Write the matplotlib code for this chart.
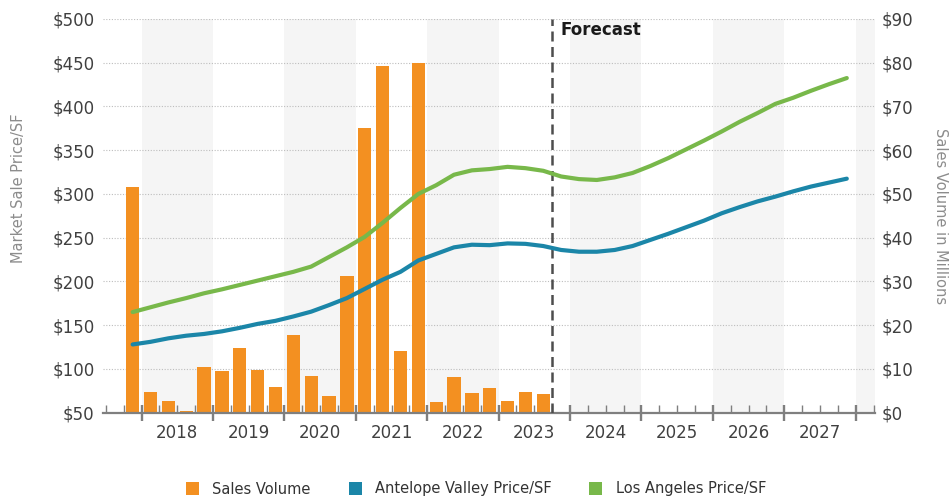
import matplotlib
matplotlib.use('Agg')
import matplotlib.pyplot as plt
from matplotlib.patches import Patch

plt.rcParams['font.family'] = ['DejaVu Sans']

# ---------------- data ----------------
years = [2018, 2019, 2020, 2021, 2022, 2023, 2024, 2025, 2026, 2027]

line_quarters = [f"{y}Q{q}" for y in range(2017, 2028) for q in range(1, 5)][3:]   # 2017Q4 .. 2027Q4
bar_quarters = line_quarters[:24]                                                   # 2017Q4 .. 2023Q3

sales_volume = [51.7, 4.7, 2.7, 0.4, 10.5, 9.5, 14.8, 9.7, 5.9, 17.8, 8.4, 3.8,
                31.2, 65.1, 79.3, 14.2, 80.0, 2.5, 8.1, 4.4, 5.6, 2.7, 4.8, 4.3]

av_price = [128, 131, 135, 138, 140, 143, 147, 151.5, 155, 160, 165.5, 173, 181,
            191.5, 202, 211, 224, 231.5, 239, 242, 241.5, 243.5, 243, 240.5, 236,
            234, 234, 236, 240.5, 247.5, 254.5, 262, 269.5, 278, 285, 291.5, 297,
            303, 308.5, 313, 317.5]

la_price = [165, 170.5, 176, 181, 186.5, 191, 196, 201, 206, 211, 217, 228, 239,
            251, 267, 284, 300, 310, 322, 327, 328.5, 331, 329.5, 326.5, 320,
            317, 316, 319, 324, 332, 341, 351, 361, 371.5, 382.5, 392.5, 403,
            410, 418, 425.5, 432.5]

forecast_start = 2023.75

series_labels = ['Sales Volume', 'Antelope Valley Price/SF', 'Los Angeles Price/SF']
colors = ['#F39021', '#1B86A8', '#78B84A']


def qpos(label):
    y = int(label[:4])
    q = int(label[-1])
    return y + (q - 0.5) / 4.0


xb = [qpos(q) for q in bar_quarters]
xl = [qpos(q) for q in line_quarters]

# ---------------- figure ----------------
W, H = 950, 497
fig = plt.figure(figsize=(W / 100, H / 100), dpi=100)
L, R, T, B = 103, 875, 19, 412.7
ax = fig.add_axes([L / W, 1 - B / H, (R - L) / W, (B - T) / H])
ax2 = ax.twinx()

ax.set_xlim(2017.46, 2028.27)
ax.set_ylim(0, 90)
ax2.set_ylim(50, 500)

# alternating year bands
for y in range(2018, 2030, 2):
    ax.axvspan(y, y + 1, color='#f5f5f5', zorder=0, lw=0)

# grid
ax.set_yticks(range(0, 91, 10))
ax.set_yticklabels([f"${v}" for v in range(0, 91, 10)])
ax.set_axisbelow(True)
ax.grid(axis='y', linestyle=(0, (1, 1.5)), color='#bdbdbd', lw=0.8)
ax.grid(axis='x', visible=False)

# bars (right axis)
ax.bar(xb, sales_volume, width=0.186, color=colors[0], zorder=2, lw=0)

# lines (left axis)
ax2.plot(xl, av_price, color=colors[1], lw=3, solid_capstyle='round', zorder=4)
ax2.plot(xl, la_price, color=colors[2], lw=3, solid_capstyle='round', zorder=4)

# forecast divider
ax2.axvline(forecast_start, color='#4d4d4d', lw=1.8, ls=(0, (4, 2.2)), zorder=3)
ax2.text(forecast_start + 0.117, 0.972, 'Forecast', transform=ax2.get_xaxis_transform(),
         ha='left', va='center', fontsize=12, fontweight='bold', color='#1a1a1a')

# axes styling
ax.yaxis.tick_right()
ax.tick_params(axis='y', length=0, pad=5, labelsize=12, labelcolor='#404040')
ax2.yaxis.tick_left()
ax2.set_yticks(range(50, 501, 50))
ax2.set_yticklabels([f"${v}" for v in range(50, 501, 50)])
ax2.tick_params(axis='y', length=0, pad=6, labelsize=12, labelcolor='#404040')

for s in ['top', 'left', 'right']:
    ax.spines[s].set_visible(False)
for s in ['top', 'left', 'right', 'bottom']:
    ax2.spines[s].set_visible(False)
ax.spines['bottom'].set_color('#7f7f7f')
ax.spines['bottom'].set_linewidth(1.6)

major = list(range(2018, 2029))
minor = [2017.5 + 0.25 * i for i in range(44) if (2017.5 + 0.25 * i) % 1 != 0]
ax.set_xticks(major)
ax.set_xticks(minor, minor=True)
ax.tick_params(axis='x', which='major', direction='inout', length=12, width=1.7,
               color='#7f7f7f', labelbottom=False)
ax.tick_params(axis='x', which='minor', direction='in', length=6, width=1,
               color='#7f7f7f', labelbottom=False)

for y in years:
    ax.text(y + 0.5, -20.5 / (B - T), str(y), transform=ax.get_xaxis_transform(),
            ha='center', va='center', fontsize=12, color='#404040')

# axis titles
fig.text(18.5 / W, 1 - 188 / H, 'Market Sale Price/SF', rotation=90, ha='center',
         va='center', fontsize=10.5, color='#8c8c8c')
fig.text(940 / W, 1 - 216 / H, 'Sales Volume in Millions', rotation=270, ha='center',
         va='center', fontsize=10.5, color='#8c8c8c')

# legend
handles = [Patch(facecolor=c, edgecolor='none') for c in colors]
fig.legend(handles, series_labels, loc='center', bbox_to_anchor=(476 / W, 1 - 489 / H),
           ncol=3, frameon=False, handlelength=0.9, handleheight=0.9,
           handletextpad=0.9, columnspacing=2.6, fontsize=10.5, labelcolor='#333333')

fig.savefig('out.png', dpi=100)
